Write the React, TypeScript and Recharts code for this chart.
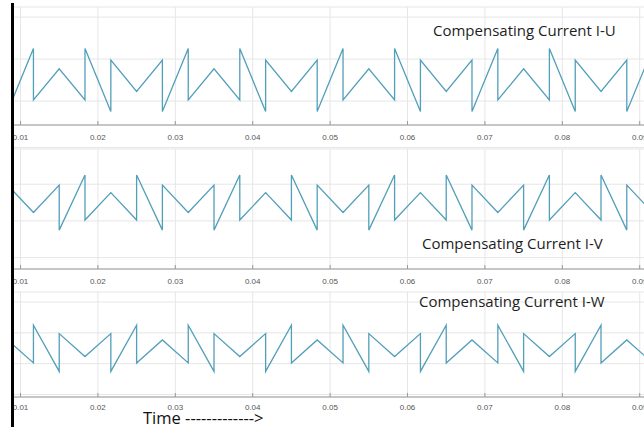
import { LineChart, Line, XAxis, YAxis, CartesianGrid } from 'recharts';

// vertex times of the waveform (s)
const vertexTimes = [
  0.00833, 0.01167, 0.015, 0.01833, 0.02167, 0.025, 0.02833, 0.03167, 0.035,
  0.03833, 0.04167, 0.045, 0.04833, 0.05167, 0.055, 0.05833, 0.06167, 0.065,
  0.06833, 0.07167, 0.075, 0.07833, 0.08167, 0.085, 0.08833, 0.09167, 0.095,
];

// value(s) at each vertex: two values where the current jumps
const currentU = [
  [0.95, -1.5], [1.5, -0.95], [0.54], [-0.95, 1.5], [-1.5, 0.95], [-0.54],
  [0.95, -1.5], [1.5, -0.95], [0.54], [-0.95, 1.5], [-1.5, 0.95], [-0.54],
  [0.95, -1.5], [1.5, -0.95], [0.54], [-0.95, 1.5], [-1.5, 0.95], [-0.54],
  [0.95, -1.5], [1.5, -0.95], [0.54], [-0.95, 1.5], [-1.5, 0.95], [-0.54],
  [0.95, -1.5], [1.5, -0.95], [0.54],
];
const currentV = [
  [-1.5, 0.95], [-0.54], [0.95, -1.5], [1.5, -0.95], [0.54], [-0.95, 1.5],
  [-1.5, 0.95], [-0.54], [0.95, -1.5], [1.5, -0.95], [0.54], [-0.95, 1.5],
  [-1.5, 0.95], [-0.54], [0.95, -1.5], [1.5, -0.95], [0.54], [-0.95, 1.5],
  [-1.5, 0.95], [-0.54], [0.95, -1.5], [1.5, -0.95], [0.54], [-0.95, 1.5],
  [-1.5, 0.95], [-0.54], [0.95, -1.5],
];
const currentW = [
  [0.54], [-0.95, 1.5], [-1.5, 0.95], [-0.54], [0.95, -1.5], [1.5, -0.95],
  [0.54], [-0.95, 1.5], [-1.5, 0.95], [-0.54], [0.95, -1.5], [1.5, -0.95],
  [0.54], [-0.95, 1.5], [-1.5, 0.95], [-0.54], [0.95, -1.5], [1.5, -0.95],
  [0.54], [-0.95, 1.5], [-1.5, 0.95], [-0.54], [0.95, -1.5], [1.5, -0.95],
  [0.54], [-0.95, 1.5], [-1.5, 0.95],
];

const xTicks = [0.01, 0.02, 0.03, 0.04, 0.05, 0.06, 0.07, 0.08, 0.09];
const yTicks = [-3, -2, -1, 0, 1, 2, 3];
const X_DOMAIN = [0.0089, 0.09288];

const LINE_COLOR = '#529fba';

function toPoints(values: number[][]) {
  return vertexTimes.flatMap((t, i) => values[i].map((v) => ({ t, v })));
}

interface PanelProps {
  values: number[][];
  top: number;
  height: number;
  yDomain: number[];
  labelGap?: number;
}

function Panel({ values, top, height, yDomain, labelGap = 13 }: PanelProps) {
  return (
    <div style={{ position: 'absolute', left: 0, top }}>
      <LineChart
        width={662}
        height={height}
        data={toPoints(values)}
        margin={{ top: 7, right: 0, bottom: 0, left: 12 }}
      >
        <CartesianGrid stroke="#e6e6e6" xAxisId="b" />
        <XAxis
          xAxisId="b"
          dataKey="t"
          type="number"
          domain={X_DOMAIN}
          ticks={xTicks}
          interval={0}
          allowDataOverflow
          height={20}
          tickSize={-4}
          tickMargin={labelGap}
          tickFormatter={(v: number) => v.toFixed(2)}
          tick={{ fontSize: 8, fill: '#555' }}
          stroke="#999"
        />
        <XAxis
          xAxisId="t"
          orientation="top"
          dataKey="t"
          type="number"
          domain={X_DOMAIN}
          ticks={xTicks}
          interval={0}
          allowDataOverflow
          height={0}
          tickSize={-4}
          tickFormatter={() => ''}
          stroke="#888"
        />
        <YAxis hide type="number" domain={yDomain} ticks={yTicks} allowDataOverflow />
        <Line
          xAxisId="b"
          type="linear"
          dataKey="v"
          stroke={LINE_COLOR}
          strokeWidth={1.3}
          dot={false}
          isAnimationActive={false}
        />
      </LineChart>
    </div>
  );
}

const titleStyle: React.CSSProperties = {
  position: 'absolute',
  fontFamily: '"Open Sans", sans-serif',
  fontSize: 15,
  color: '#1e1e1e',
  whiteSpace: 'nowrap',
  lineHeight: '18px',
};

export default function App() {
  return (
    <div
      style={{
        position: 'fixed',
        left: 0,
        top: 0,
        width: 644,
        height: 427,
        overflow: 'hidden',
        background: '#fff',
        fontFamily: '"Liberation Sans", Arial, sans-serif',
      }}
    >
      <Panel values={currentU} top={0} height={145} yDomain={[-2.14, 3.48]} />
      <Panel values={currentV} top={142} height={147} yDomain={[-3.62, 2.92]} />
      <Panel values={currentW} top={285} height={132} yDomain={[-3.16, 3.65]} labelGap={11} />

      <div style={{ ...titleStyle, left: 433, top: 21 }}>Compensating Current I-U</div>
      <div style={{ ...titleStyle, left: 422, top: 234 }}>Compensating Current I-V</div>
      <div style={{ ...titleStyle, left: 419, top: 292 }}>Compensating Current I-W</div>
      <div style={{ ...titleStyle, left: 143, top: 409, fontSize: 16.5, color: '#111' }}>
        Time -------------{'>'}
      </div>

      <div style={{ position: 'absolute', left: 11, top: 3, width: 3, height: 424, background: '#000' }} />
    </div>
  );
}
